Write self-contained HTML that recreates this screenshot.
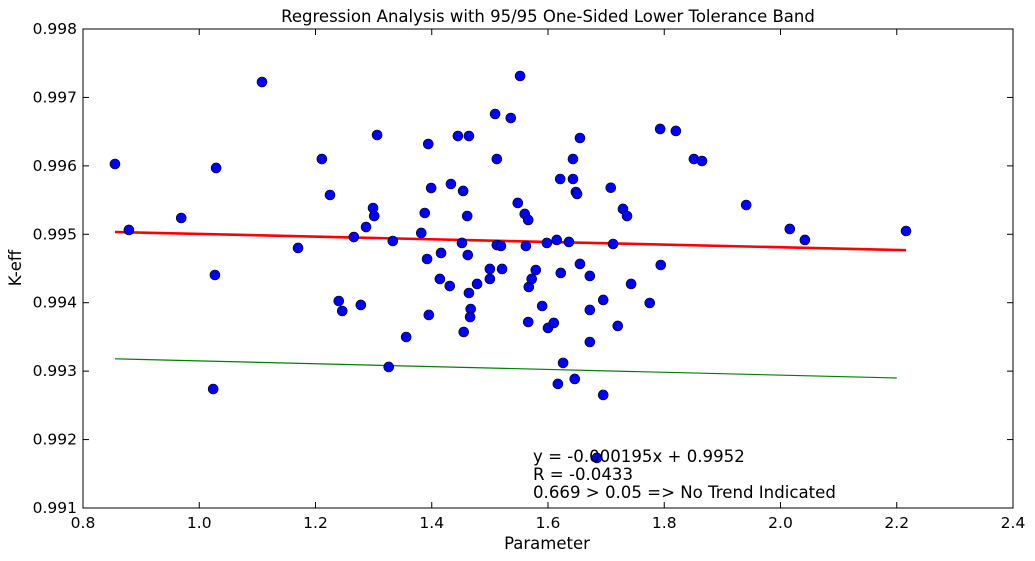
<!DOCTYPE html>
<html><head><meta charset="utf-8"><style>
body{margin:0;background:#fff;}
svg{display:block;font-family:"DejaVu Sans","Liberation Sans",sans-serif;}
</style></head><body>
<svg id="chart" width="1035" height="561" xmlns="http://www.w3.org/2000/svg">
<rect width="1035" height="561" fill="#fff"/>
<text x="548" y="22" font-size="16.5" text-anchor="middle">Regression Analysis with 95/95 One-Sided Lower Tolerance Band</text>
<g id="marks"></g>
<rect x="83" y="29" width="930" height="479" fill="none" stroke="#000" stroke-width="1"/>
<g id="axes"></g>
<text x="547" y="549" font-size="16.5" text-anchor="middle">Parameter</text>
<text transform="translate(21,268) rotate(-90)" font-size="16.5" text-anchor="middle">K-eff</text>
<g font-size="16.6">
<text x="533" y="462">y = -0.000195x + 0.9952</text>
<text x="533" y="480">R = -0.0433</text>
<text x="533" y="498">0.669 &gt; 0.05 =&gt; No Trend Indicated</text>
</g>
</svg>
<script>
const xVals=[0.855,0.879,0.969,1.029,1.027,1.024,1.108,1.170,1.211,1.225,1.240,1.246,1.266,1.287,1.299,1.301,1.278,1.306,1.326,1.333,1.356,1.382,1.388,1.394,1.392,1.395,1.399,1.416,1.414,1.431,1.433,1.445,1.454,1.452,1.455,1.461,1.462,1.464,1.464,1.467,1.466,1.478,1.500,1.500,1.512,1.512,1.509,1.519,1.521,1.536,1.548,1.552,1.560,1.562,1.566,1.566,1.567,1.572,1.579,1.590,1.598,1.600,1.610,1.615,1.621,1.622,1.626,1.617,1.636,1.643,1.643,1.646,1.648,1.650,1.655,1.655,1.672,1.672,1.672,1.695,1.695,1.708,1.712,1.720,1.729,1.736,1.743,1.793,1.794,1.775,1.820,1.851,1.865,1.941,2.016,2.042,2.216,1.684];
const yVals=[0.996027,0.995063,0.995238,0.995969,0.994405,0.992739,0.997225,0.994800,0.996100,0.995574,0.994025,0.993879,0.994960,0.995106,0.995384,0.995267,0.993967,0.996451,0.993061,0.994902,0.993499,0.995019,0.995311,0.996319,0.994639,0.993821,0.995676,0.994727,0.994347,0.994244,0.995735,0.996436,0.995633,0.994873,0.993572,0.995267,0.994697,0.994142,0.996436,0.993908,0.993791,0.994274,0.994493,0.994347,0.994843,0.996100,0.996758,0.994829,0.994493,0.996699,0.995458,0.997313,0.995297,0.994829,0.995209,0.993718,0.994230,0.994347,0.994478,0.993952,0.994873,0.993631,0.993704,0.994917,0.995808,0.994435,0.993120,0.992813,0.994888,0.995808,0.996100,0.992886,0.995618,0.995589,0.994566,0.996407,0.994391,0.993894,0.993426,0.994040,0.992652,0.995680,0.994858,0.993660,0.995370,0.995267,0.994274,0.996539,0.994551,0.993996,0.996510,0.996100,0.996071,0.995428,0.995078,0.994917,0.995048,0.991732];
const regSlope=-0.000195, regIntercept=0.9952;
const bandX=[0.855,2.2];
const bandY=[0.99318,0.99290];
const xTicks=[0.8,1.0,1.2,1.4,1.6,1.8,2.0,2.2,2.4];
const xTickLabels=["0.8","1.0","1.2","1.4","1.6","1.8","2.0","2.2","2.4"];
const yTicks=[0.991,0.992,0.993,0.994,0.995,0.996,0.997,0.998];
const yTickLabels=["0.991","0.992","0.993","0.994","0.995","0.996","0.997","0.998"];

const L=83,R=1013,T=29,B=508,x0=0.8,x1=2.4,y0=0.991,y1=0.998;
const sx=v=>L+(v-x0)/(x1-x0)*(R-L);
const sy=v=>B-(v-y0)/(y1-y0)*(B-T);
const NS="http://www.w3.org/2000/svg";
const marks=document.getElementById('marks'), axes=document.getElementById('axes');
function mk(tag,attrs,parent){const e=document.createElementNS(NS,tag);for(const k in attrs)e.setAttribute(k,attrs[k]);parent.appendChild(e);return e;}

const xmin=Math.min(...xVals), xmax=Math.max(...xVals);
const reg=mk('line',{x1:sx(xmin),y1:sy(regSlope*xmin+regIntercept),x2:sx(xmax),y2:sy(regSlope*xmax+regIntercept),stroke:'#ff0000','stroke-width':2.6},marks);


const band=mk('line',{x1:sx(bandX[0]),y1:sy(bandY[0]),x2:sx(bandX[1]),y2:sy(bandY[1]),stroke:'#008000','stroke-width':1.2},marks);


for(let i=0;i<xVals.length;i++){
  const c=mk('circle',{cx:sx(xVals[i]),cy:sy(yVals[i]),r:5,fill:'#0000ff',stroke:'#000','stroke-width':0.6},marks);
  
  
}
xTicks.forEach((v,i)=>{
  const x=sx(v);
  mk('line',{x1:x,y1:B,x2:x,y2:B-6,stroke:'#000'},axes);
  mk('line',{x1:x,y1:T,x2:x,y2:T+6,stroke:'#000'},axes);
  const t=mk('text',{x:x,y:528,'font-size':15.5,'text-anchor':'middle'},axes);
  t.textContent=xTickLabels[i];
  
  
});
yTicks.forEach((v,i)=>{
  const y=sy(v);
  mk('line',{x1:L,y1:y,x2:L+6,y2:y,stroke:'#000'},axes);
  mk('line',{x1:R,y1:y,x2:R-6,y2:y,stroke:'#000'},axes);
  const t=mk('text',{x:77,y:y+5,'font-size':15.5,'text-anchor':'end'},axes);
  t.textContent=yTickLabels[i];
  
  
});
</script>
</body></html>
